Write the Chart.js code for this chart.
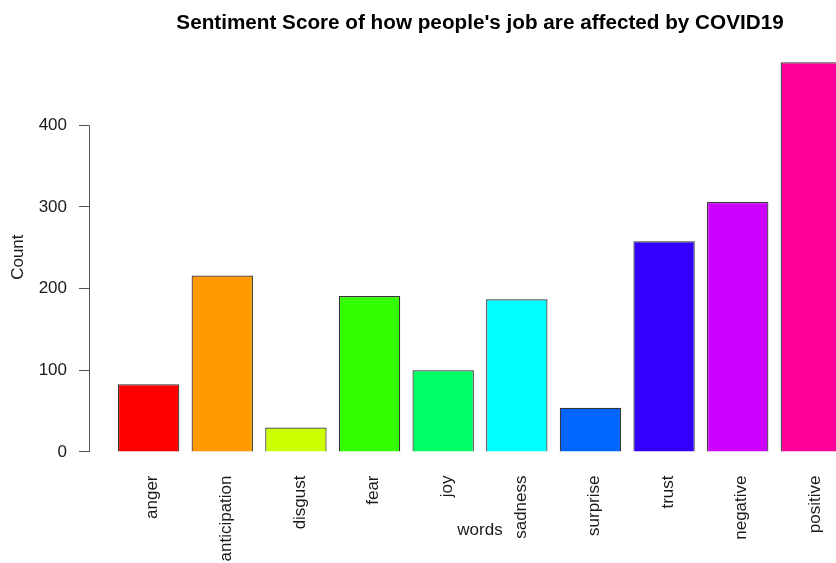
<!DOCTYPE html>
<html>
<head>
<meta charset="utf-8">
<script src="https://cdn.jsdelivr.net/npm/chart.js@4.4.1/dist/chart.umd.min.js"></script>
<style>
  html, body { margin: 0; padding: 0; overflow: hidden; background: #fff; }
</style>
</head>
<body>
<canvas id="myChart" width="880" height="563"></canvas>
<script>
const words = ['anger', 'anticipation', 'disgust', 'fear', 'joy', 'sadness', 'surprise', 'trust', 'negative', 'positive'];
const counts = [83, 216, 30, 191, 100, 187, 54, 258, 306, 477];
const yTicks = [0, 100, 200, 300, 400];

// R rainbow(10)
const colors = ['#FF0000', '#FF9900', '#CCFF00', '#33FF00', '#00FF66', '#00FFFF', '#0066FF', '#3300FF', '#CC00FF', '#FF0099'];

const font = 'Liberation Sans, Arial, sans-serif';
const textColor = '#1a1a1a';

// y axis line only from first to last tick, like base R
const rAxisLine = {
    id: 'rAxisLine',
    afterDraw(chart) {
        const ctx = chart.ctx;
        const y = chart.scales.y;
        const x0 = Math.round(chart.chartArea.left) + 0.5;
        ctx.save();
        ctx.strokeStyle = '#555';
        ctx.lineWidth = 1;
        ctx.beginPath();
        ctx.moveTo(x0, y.getPixelForValue(yTicks[0]));
        ctx.lineTo(x0, y.getPixelForValue(yTicks[yTicks.length - 1]));
        ctx.stroke();
        // xlab sits on top of the rotated labels in R
        const area = chart.chartArea;
        ctx.fillStyle = textColor;
        ctx.font = '17px ' + font;
        ctx.textAlign = 'center';
        ctx.textBaseline = 'middle';
        ctx.fillText('words', (area.left + area.right) / 2, area.bottom + 63);
        ctx.restore();
    }
};

const myChart = new Chart(
    document.getElementById('myChart'),
    {
        type: 'bar',
        data: {
            datasets: [{
                data: counts.map((c, i) => ({x: i, y: c})),
                backgroundColor: colors,
                borderColor: '#333',
                borderWidth: 1.2,
                barPercentage: 1 / 1.2,
                categoryPercentage: 1
            }]
        },
        options: {
            responsive: false,
            animation: false,
            layout: { padding: { left: 0, right: 9, top: 0, bottom: 0 } },
            plugins: {
                legend: { display: false },
                tooltip: { enabled: false },
                title: {
                    display: true,
                    fullSize: false,
                    text: "Sentiment Score of how people's job are affected by COVID19",
                    color: '#000',
                    font: { family: font, size: 20.7, weight: 'bold' },
                    padding: { top: 11, bottom: 11 }
                }
            },
            scales: {
                x: {
                    type: 'linear',
                    offset: false,
                    min: -0.81,
                    max: 9.81,
                    afterBuildTicks: (axis) => { axis.ticks = words.map((w, i) => ({value: i})); },
                    afterFit: (scale) => { scale.height = 95.5; },
                    grid: { display: false, offset: false },
                    border: { display: false },
                    ticks: {
                        autoSkip: false,
                        minRotation: 90,
                        maxRotation: 90,
                        padding: 0,
                        labelOffset: 4,
                        color: textColor,
                        font: { family: font, size: 17 },
                        callback: (v) => words[v]
                    }
                },
                y: {
                    min: -19,
                    max: 496,
                    afterBuildTicks: (axis) => { axis.ticks = yTicks.map(v => ({value: v})); },
                    afterFit: (scale) => { scale.width = 89; },
                    grid: {
                        drawOnChartArea: false,
                        drawTicks: true,
                        tickLength: 10,
                        color: '#555'
                    },
                    border: { display: false },
                    ticks: {
                        padding: 12,
                        color: textColor,
                        font: { family: font, size: 17 }
                    },
                    title: {
                        display: true,
                        text: 'Count',
                        color: textColor,
                        font: { family: font, size: 17 },
                        padding: { top: 8, bottom: 0 }
                    }
                }
            }
        },
        plugins: [rAxisLine]
    }
);
</script>
</body>
</html>
